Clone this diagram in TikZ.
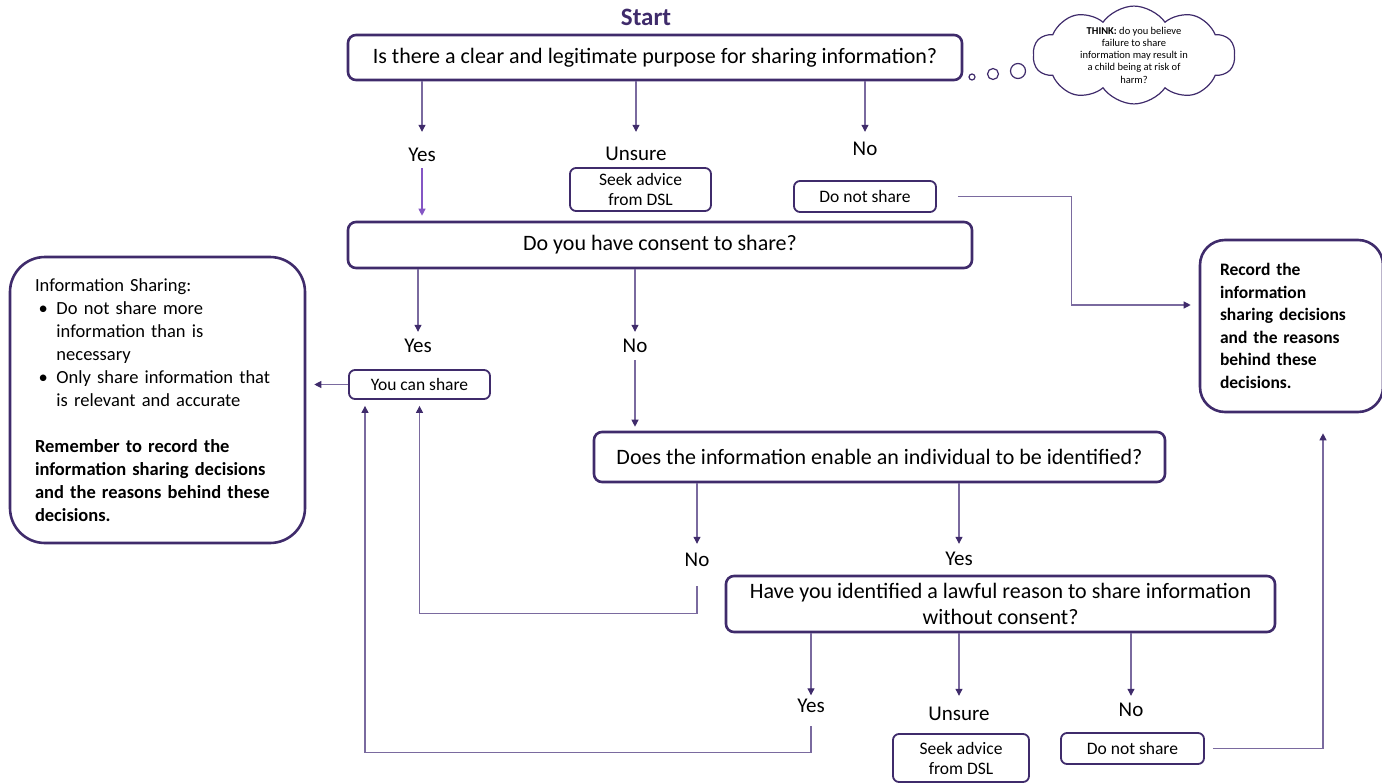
\documentclass[tikz,border=0pt]{standalone}
\usepackage{fontspec}
\setmainfont{Carlito}
\usetikzlibrary{positioning, arrows.meta, calc, shapes.symbols}
\definecolor{flowpurple}{HTML}{3F2B6B}
\definecolor{linkpurple}{HTML}{7A6A9F}
\definecolor{brightpurple}{HTML}{8456C4}

\begin{document}
\begin{tikzpicture}[
      x=1pt, y=-1pt,
      question/.style={
        draw=flowpurple,
        line width=2.6pt,
        rounded corners=8pt,
        align=center,
        inner sep=0pt,
        font=\fontsize{22}{26}\selectfont
      },
      smallbox/.style={
        draw=flowpurple,
        line width=1.8pt,
        rounded corners=6pt,
        align=center,
        inner sep=0pt,
        font=\fontsize{17.5}{20}\selectfont
      },
      notebox/.style={
        draw=flowpurple,
        line width=2.6pt,
        align=left
      },
      answer/.style={
        inner sep=0pt,
        text height=14pt,
        text depth=4pt,
        font=\fontsize{21}{24}\selectfont
      },
      link/.style={
        draw=linkpurple,
        line width=1.1pt
      },
      arrow/.style={
        link,
        -{Triangle[length=7pt, width=7pt, color=flowpurple]}
      }
    ]

    \useasboundingbox (0,0) rectangle (1382,784);

    \node[font=\fontsize{25}{28}\selectfont\bfseries, text=flowpurple] (start) at (646,17) {Start};

    \node[question, minimum width=614pt, minimum height=45pt] (q1) at (655,57.5)
      {Is there a clear and legitimate purpose for sharing information?};
    \node[question, minimum width=624pt, minimum height=46pt] (q2) at (660,245)
      {Do you have consent to share?};
    \node[question, minimum width=571pt, minimum height=50pt] (q3) at (879.5,457)
      {Does the information enable an individual to be identified?};
    \node[question, minimum width=549pt, minimum height=56pt] (q4) at (1000.5,604)
      {Have you identified a lawful reason to share information\\without consent?};

    \node[smallbox, minimum width=141pt, minimum height=43pt] (seek1) at (640.5,189.5) {Seek advice\\from DSL};
    \node[smallbox, minimum width=142pt, minimum height=31pt] (dns1) at (865,196.5) {Do not share};
    \node[smallbox, minimum width=141pt, minimum height=29pt] (youcan) at (419.5,384.5) {You can share};
    \node[smallbox, minimum width=136pt, minimum height=48pt] (seek2) at (961,758) {Seek advice\\from DSL};
    \node[smallbox, minimum width=143pt, minimum height=31pt] (dns2) at (1132.5,748.5) {Do not share};

    % answers
    \node[answer] (yes1) at (422,156) {Yes};
    \node[answer] (unsure1) at (636,155) {Unsure};
    \node[answer] (no1) at (865,150) {No};
    \node[answer] (yes2) at (418,347) {Yes};
    \node[answer] (no2) at (635,347) {No};
    \node[answer] (no3) at (697,561) {No};
    \node[answer] (yes3) at (959,560) {Yes};
    \node[answer] (yes4) at (811,707) {Yes};
    \node[answer] (unsure4) at (959,715) {Unsure};
    \node[answer] (no4) at (1131,711) {No};

    % side notes
    \node[notebox, rounded corners=35pt, minimum width=295pt, minimum height=286pt,
      text width=250pt, inner xsep=22.5pt, font=\fontsize{18.5}{23}\selectfont] (info) at (157.5,400) {
      \hspace*{2.5pt}Information Sharing:\\
      \hspace*{6pt}\makebox[18pt][l]{\textbullet}Do not share more\\
      \hspace*{24pt}information than is\\
      \hspace*{24pt}necessary\\
      \hspace*{6pt}\makebox[18pt][l]{\textbullet}Only share information that\\
      \hspace*{24pt}is relevant and accurate\\[23pt]
      \hspace*{2.5pt}\textbf{Remember to record the}\\
      \hspace*{2.5pt}\textbf{information sharing decisions}\\
      \hspace*{2.5pt}\textbf{and the reasons behind these}\\
      \hspace*{2.5pt}\textbf{decisions.}
    };
    \node[notebox, rounded corners=25pt, minimum width=183pt, minimum height=172pt,
      text width=151pt, inner xsep=16pt, font=\fontsize{17.5}{22.5}\selectfont\bfseries] (record) at (1291.5,326) {
      \hspace*{4pt}Record the\\
      \hspace*{4pt}information\\
      \hspace*{4pt}sharing decisions\\
      \hspace*{4pt}and the reasons\\
      \hspace*{4pt}behind these\\
      \hspace*{4pt}decisions.
    };

    \node[cloud, cloud puffs=10, cloud puff arc=110, cloud ignores aspect, draw=flowpurple, line width=1.2pt,
      minimum width=202pt, minimum height=88pt, inner xsep=0pt, inner ysep=-1pt, align=center,
      font=\fontsize{10.5}{12.3}\selectfont] (think) at (1134,55) {
      \textbf{THINK:} do you believe\\
      failure to share\\
      information may result in\\
      a child being at risk of\\
      harm?
    };
    \draw[flowpurple, line width=1.2pt] (972,77) circle[radius=3pt];
    \draw[flowpurple, line width=1.2pt] (993,74) circle[radius=5.5pt];
    \draw[flowpurple, line width=1.2pt] (1018,71) circle[radius=7.5pt];

    % first question
    \draw[arrow, shorten >=15pt] (q1.south -| yes1) -- (yes1.north);
    \draw[arrow, shorten >=14pt] (q1.south -| unsure1) -- (unsure1.north);
    \draw[arrow, shorten >=9pt] (q1.south -| no1) -- (no1.north);
    \draw[-{Triangle[length=7pt, width=7pt]}, draw=brightpurple, line width=1.1pt,
      shorten <=3pt, shorten >=5pt] (yes1.south) -- (yes1.south |- q2.north);
    \draw[arrow, shorten <=21pt, shorten >=8pt] (dns1.east) -- ++(135,0) |- ([yshift=21pt]record.west);

    % consent
    \draw[arrow, shorten >=6pt] (q2.south -| yes2) -- (yes2.north);
    \draw[arrow, shorten >=6pt] (q2.south -| no2) -- (no2.north);
    \draw[arrow, shorten <=4pt, shorten >=4pt] (no2.south) -- (no2.south |- q3.north);
    \draw[arrow, shorten >=8pt] (youcan.west) -- (youcan.west -| info.east);

    % identified
    \draw[arrow, shorten >=8pt] (q3.south -| no3) -- (no3.north);
    \draw[arrow, shorten >=7pt] (q3.south -| yes3) -- (yes3.north);
    \draw[arrow, shorten <=16pt, shorten >=6pt] (no3.south) -- ++(0,43) -| (youcan.south);

    % lawful reason
    \draw[arrow, shorten >=2.5pt] (q4.south -| yes4) -- (yes4.north);
    \draw[arrow, shorten >=10pt] (q4.south -| unsure4) -- (unsure4.north);
    \draw[arrow, shorten >=6pt] (q4.south -| no4) -- (no4.north);
    \draw[arrow, shorten <=10pt, shorten >=6pt] (yes4.south) -- ++(0,36) -| ([xshift=-54.5pt]youcan.south);
    \draw[arrow, shorten <=8pt, shorten >=20pt] (dns2.east) -| ([xshift=31.5pt]record.south);

    \end{tikzpicture}
\end{document}
